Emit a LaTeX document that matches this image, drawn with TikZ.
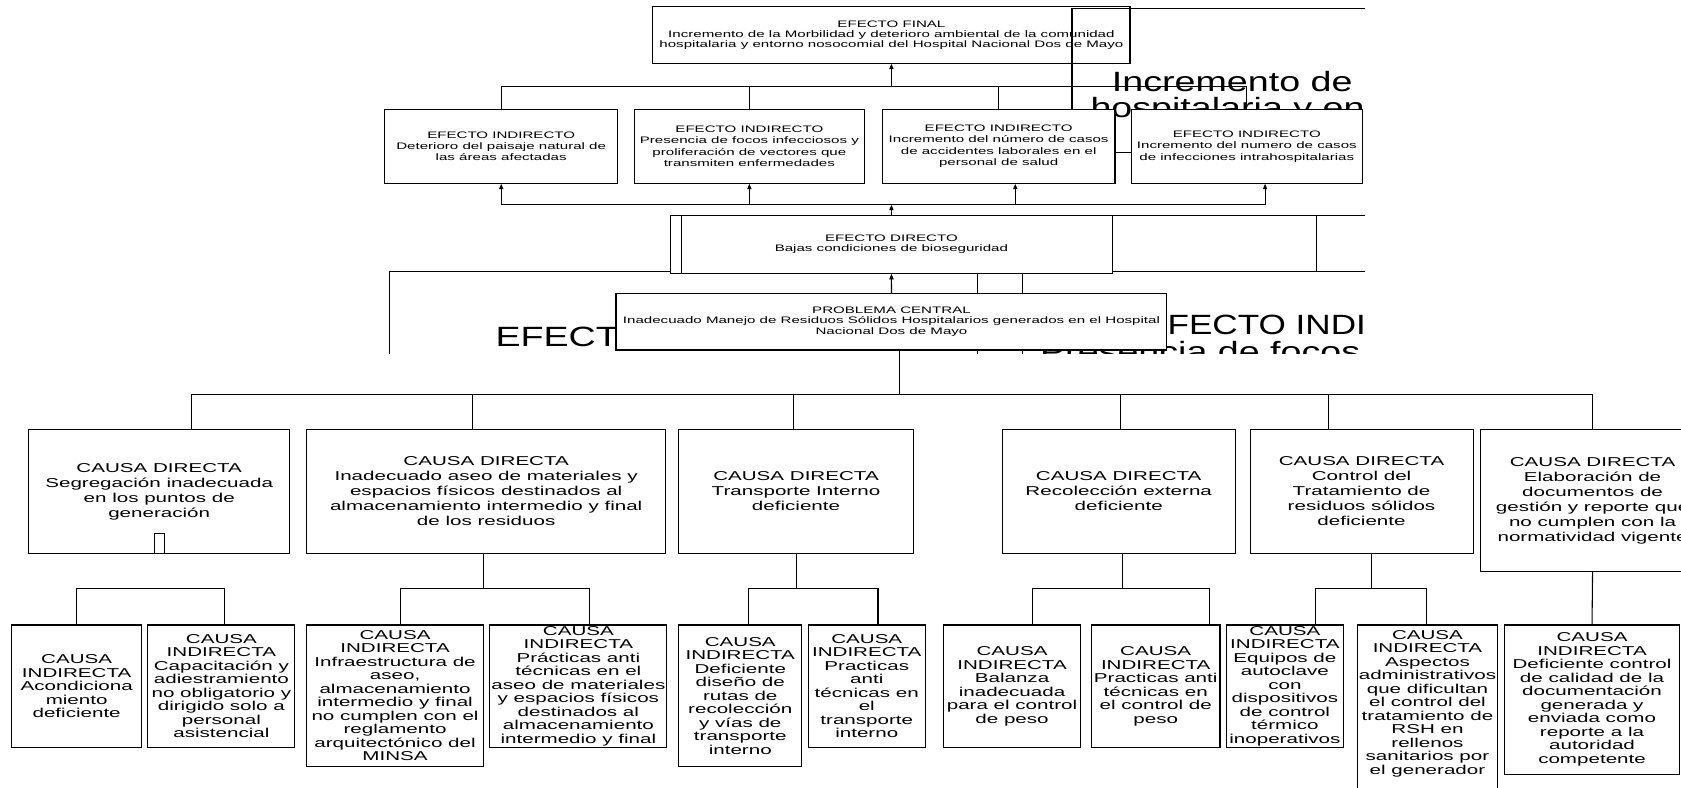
\documentclass[tikz,border=0pt]{standalone}
\usepackage{fontspec}
\usetikzlibrary{arrows.meta,calc}
\newfontfamily\wf{Liberation Sans}[FakeStretch=1.6]
\newfontfamily\bigf{Liberation Sans}[FakeStretch=1.35]
\newfontfamily\bign{Liberation Sans}[FakeStretch=1.26]

% \boxat{name}{x1}{y1}{x2}{y2}{style}{text}: a box given by its corners
\newcommand\boxat[7]{%
  \node[#6, minimum width={#4-#2}, minimum height={#5-#3}] (#1)
    at ({(#2+#4)/2},{(#3+#5)/2}) {#7};}

\tikzset{
  box/.style={draw, line width=1pt, fill=white, align=center, inner sep=0pt},
  sfin/.style={font=\wf\fontsize{8.8}{9.4}\selectfont},
  seff/.style={font=\wf\fontsize{8.8}{10.6}\selectfont},
  scau/.style={font=\wf\fontsize{12}{14}\selectfont},
  sind/.style={font=\wf\fontsize{12}{12.6}\selectfont},
  ln/.style={line width=1pt},
  arr/.style={line width=1pt, -{Triangle[length=5pt,width=4pt]}},
  big/.style={font=\bigf\fontsize{26}{26}\selectfont, anchor=base west, inner sep=0pt},
  bignarrow/.style={big, font=\bign\fontsize{26}{26}\selectfont},
}

\begin{document}
\begin{tikzpicture}[x=1pt,y=-1pt]
\useasboundingbox (0,0) rectangle (1568,735);
\fill[white] (0,0) rectangle (1568,735);

% ---------------- effects tree (cropped frame) ----------------
\begin{scope}
\clip (0,0) rectangle (1273,330);

% oversized lettering behind the boxes
\node[big] (t1) at (1037,85) {Incremento de};
\node[big] (t2) at (1017,110) {hospitalaria y en};
\node[big] (t3) at (462,323) {EFECT};
\node[bignarrow] (t4) at (1067,312) {EFECTO INDI};
\node[big] (t5) at (970,337) {Presencia de focos};

% stray frame lines
\draw[ln] (1040,142) -- (1055,142);
\draw[ln] (912,255) -- (912,330);
\draw[ln] (953.5,255) -- (953.5,330);
\draw[ln] (625,253) -- (363,253) -- (363,335);
\draw[line width=1.6pt] (1038,201) -- (1280,201);
\draw[ln] (1038,253) -- (1280,253);
\draw[ln] (1228,201) -- (1228,253);

% boxes
\boxat{EF}{609}{6}{1054}{59}{box,sfin}{EFECTO FINAL\\Incremento de la Morbilidad y deterioro ambiental de la comunidad\\hospitalaria y entorno nosocomial del Hospital Nacional Dos de Mayo}
\boxat{E1}{359}{102}{576}{171}{box,seff}{EFECTO INDIRECTO\\Deterioro del paisaje natural de\\las áreas afectadas}
\boxat{E2}{592}{102}{806}{171}{box,seff}{EFECTO INDIRECTO\\Presencia de focos infecciosos y\\proliferación de vectores que\\transmiten enfermedades}
\boxat{E3}{823}{102}{1040}{171}{box,seff}{EFECTO INDIRECTO\\Incremento del número de casos\\de accidentes laborales en el\\personal de salud}
\boxat{E4}{1055}{102}{1271}{171}{box,seff}{EFECTO INDIRECTO\\Incremento del numero de casos\\de infecciones intrahospitalarias}
\boxat{ED}{625}{201}{1038}{255}{box,sfin}{EFECTO DIRECTO\\Bajas condiciones de bioseguridad}
\draw[ln] ($(ED.north west)+(11.5,0)$) -- ($(ED.south west)+(11.5,0)$);
\boxat{PC}{574.6}{273.6}{1088.5}{326.5}{box,sfin}{PROBLEMA CENTRAL\\Inadecuado Manejo de Residuos Sólidos Hospitalarios generados en el Hospital\\Nacional Dos de Mayo}

\draw[line width=1.6pt] (1000,102) -- (1000,8) -- (1280,8);

% connectors between effects
\coordinate (jt) at (831.5,81);
\draw[arr] (jt) -- (EF.south);
\draw[ln] (E1.north) -- (E1.north |- jt) -- (E4.north |- jt) -- (E4.north);
\draw[ln] (E2.north) -- (E2.north |- jt);
\draw[ln] (E3.north) -- (E3.north |- jt);

\coordinate (jb) at (831.5,191);
\coordinate (a3) at (947,191);
\coordinate (a4) at (1180,191);
\draw[ln] (E1.south |- jb) -- (a4);
\draw[arr] (E1.south |- jb) -- (E1.south);
\draw[arr] (E2.south |- jb) -- (E2.south);
\draw[arr] (a3) -- (a3 |- E3.south);
\draw[arr] (a4) -- (a4 |- E4.south);
\draw[arr] (ED.north) -- (jb);
\draw[arr] (PC.north) -- (ED.south);
\end{scope}

% ---------------- causes tree ----------------
\boxat{C1}{27}{401}{270}{516}{box,scau}{CAUSA DIRECTA\\Segregación inadecuada\\en los puntos de\\generación}
\draw[ln] (144,516) -- (144,497.5) -- (153.3,497.5) -- (153.3,516);
\boxat{C2}{286}{401}{621}{516}{box,scau}{CAUSA DIRECTA\\Inadecuado aseo de materiales y\\espacios físicos destinados al\\almacenamiento intermedio y final\\de los residuos}
\boxat{C3}{633}{401}{852}{516}{box,scau}{CAUSA DIRECTA\\Transporte Interno\\deficiente}
\boxat{C4}{935}{401}{1152}{516}{box,scau}{CAUSA DIRECTA\\Recolección externa\\deficiente}
\boxat{C5}{1166}{401}{1374}{516}{box,scau}{CAUSA DIRECTA\\Control del\\Tratamiento de\\residuos sólidos\\deficiente}
\boxat{C6}{1381}{401}{1590}{533}{box,scau}{CAUSA DIRECTA\\Elaboración de\\documentos de\\gestión y reporte que\\no cumplen con la\\normatividad vigente}

\coordinate (trunk) at (839,368);
\coordinate (d1) at (178.5,368);
\coordinate (d2) at (440.5,368);
\coordinate (d3) at (740,368);
\coordinate (d4) at (1045,368);
\coordinate (d5) at (1239,368);
\coordinate (d6) at (1485.5,368);
\draw[ln] (PC.south -| trunk) -- (trunk);
\draw[ln] (d1) -- (d6);
\foreach \d/\c in {d1/C1,d2/C2,d3/C3,d4/C4,d5/C5,d6/C6}
  \draw[ln] (\d) -- (\d |- \c.north);

\boxat{I1}{11}{583}{132}{697}{box,sind}{CAUSA\\INDIRECTA\\Acondiciona\\miento\\deficiente}
\boxat{I2}{138}{583}{275}{697}{box,sind}{CAUSA\\INDIRECTA\\Capacitación y\\adiestramiento\\no obligatorio y\\dirigido solo a\\personal\\asistencial}
\boxat{I3}{286}{583}{451}{715}{box,sind}{CAUSA\\INDIRECTA\\Infraestructura de\\aseo,\\almacenamiento\\intermedio y final\\no cumplen con el\\reglamento\\arquitectónico del\\MINSA}
\boxat{I4}{457}{583}{622}{697}{box,sind}{CAUSA\\INDIRECTA\\Prácticas anti\\técnicas en el\\aseo de materiales\\y espacios físicos\\destinados al\\almacenamiento\\intermedio y final}
\boxat{I5}{633}{583}{748}{715}{box,sind}{CAUSA\\INDIRECTA\\Deficiente\\diseño de\\rutas de\\recolección\\y vías de\\transporte\\interno}
\boxat{I6}{754}{583}{863}{697}{box,sind}{CAUSA\\INDIRECTA\\Practicas\\anti\\técnicas en\\el\\transporte\\interno}
\boxat{I7}{880}{583}{1008}{697}{box,sind}{CAUSA\\INDIRECTA\\Balanza\\inadecuada\\para el control\\de peso}
\boxat{I8}{1018}{583}{1138}{697}{box,sind}{CAUSA\\INDIRECTA\\Practicas anti\\técnicas en\\el control de\\peso}
\boxat{I9}{1144}{583}{1253}{697}{box,sind}{CAUSA\\INDIRECTA\\Equipos de\\autoclave\\con\\dispositivos\\de control\\térmico\\inoperativos}
\boxat{I10}{1266}{583}{1397}{790}{box,sind}{}
\node[sind, align=center, inner sep=0pt, anchor=north] (I10t) at ($(I10.north)+(0,5)$) {CAUSA\\INDIRECTA\\Aspectos\\administrativos\\que dificultan\\el control del\\tratamiento de\\RSH en\\rellenos\\sanitarios por\\el generador};
\boxat{I11}{1403}{583}{1567}{722}{box,sind}{CAUSA\\INDIRECTA\\Deficiente control\\de calidad de la\\documentación\\generada y\\enviada como\\reporte a la\\autoridad\\competente}

% links from direct to indirect causes
\coordinate (g1l) at (71.5,549);  \coordinate (g1r) at (209,549);
\draw[ln] (g1l |- I1.north) -- (g1l) -- (g1r) -- (g1r |- I2.north);

\coordinate (g2) at (451,549); \coordinate (g2l) at (374,549); \coordinate (g2r) at (550,549);
\draw[ln] (C2.south -| g2) -- (g2);
\draw[ln] (g2l |- I3.north) -- (g2l) -- (g2r) -- (g2r |- I4.north);

\coordinate (g3) at (743,549); \coordinate (g3l) at (698,549); \coordinate (g3r) at (819,549);
\draw[ln] (C3.south -| g3) -- (g3);
\draw[ln] (g3l |- I5.north) -- (g3l) -- (g3r) -- (g3r |- I6.north);

\coordinate (g4) at (1047,549); \coordinate (g4l) at (963,549); \coordinate (g4r) at (1128,549);
\draw[ln] (C4.south -| g4) -- (g4);
\draw[ln] (g4l |- I7.north) -- (g4l) -- (g4r) -- (g4r |- I8.north);

\coordinate (g5) at (1279,549); \coordinate (g5l) at (1227,549); \coordinate (g5r) at (1331,549);
\draw[ln] (C5.south -| g5) -- (g5);
\draw[ln] (g5l |- I9.north) -- (g5l) -- (g5r) -- (g5r |- I10.north);

\draw[ln] (C6.south) -- (I11.north);
\end{tikzpicture}
\end{document}
